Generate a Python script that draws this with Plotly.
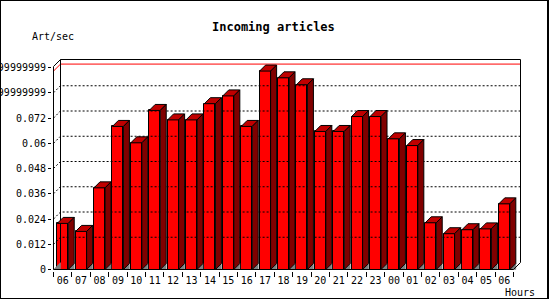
import plotly.graph_objects as go

# ---- data ----
hours = ["06", "07", "08", "09", "10", "11", "12", "13", "14", "15", "16", "17",
         "18", "19", "20", "21", "22", "23", "00", "01", "02", "03", "04", "05", "06"]
rate = [0.0219, 0.0181, 0.0388, 0.0680, 0.0602, 0.0756, 0.0711, 0.0711, 0.0788,
        0.0825, 0.0680, 0.0943, 0.0911, 0.0878, 0.0656, 0.0656, 0.0727, 0.0727,
        0.0621, 0.0589, 0.0222, 0.0170, 0.0189, 0.0193, 0.0312]
ytick_vals = [0, 0.012, 0.024, 0.036, 0.048, 0.06, 0.072, 0.084, 0.096]
ytick_text = ["0", "0.012", "0.024", "0.036", "0.048", "0.06", "0.072",
              "0.08399999999999999", "0.09599999999999999"]
title_text = "Incoming articles"
y_title = "Art/sec"
x_title = "Hours"

# ---- geometry (pixels -> data units) ----
W, H = 550, 300
L, R, T, B = 52, 28, 59, 29
PW, PH = W - L - R, H - T - B
XPX = 18.4            # px per category
YPX = 2104.0          # px per unit of rate
X0PX = 53.5           # pixel of x = -0.5
Y0PX = 269.5          # pixel of y = 0
xr = [-0.5 - (X0PX - L) / XPX, -0.5 + (L + PW - X0PX) / XPX]
yr = [-(T + PH - Y0PX) / YPX, (Y0PX - T) / YPX]
dxp, dyp = 7 / XPX, 7 / YPX      # wall depth
dxb, dyb = 6 / XPX, 6 / YPX      # bar depth
bw = 0.6
n = len(hours)
ytop = (Y0PX - 59.5) / YPX
wall_top = ytop - dyp
xl, xrgt = -0.5, n - 0.5

def px(xp):
    return (xp - L) / PW

def py(yp):
    return (T + PH - yp) / PH

fig = go.Figure()

def poly(xs, ys, fill, line_color="black", lw=1, dash=None):
    fig.add_trace(go.Scatter(
        x=xs, y=ys, mode="lines",
        fill="toself" if fill else None, fillcolor=fill,
        line=dict(color=line_color, width=lw, dash=dash),
        hoverinfo="skip", showlegend=False))

xs = list(range(n))

# floor shadows (small gray triangles at the left wall and behind each bar)
fx, fy = [xl, xl + dxp, xl + dxp, xl, None], [0, 0, dyp, 0, None]
for i in xs:
    b = i + bw / 2
    fx += [b, b + dxb, b + dxb, b, None]
    fy += [0, 0, dyb, 0, None]
poly(fx, fy, "#808080", "#808080", 0.5)

# gridlines (dotted), front axis -> back wall
gx, gy = [], []
for v in ytick_vals[1:-1]:
    gx += [xl, xl + dxp, xrgt + dxp, None]
    gy += [v, v + dyp, v + dyp, None]
poly(gx, gy, None, "black", 1, "2px,2px")

# max line (red)
mx = max(rate)
poly([xl, xl + dxp, xrgt + dxp], [mx, mx + dyp, mx + dyp], None, "#ff0000", 1)

# frame: back wall + left wall + front bottom
poly([xl + dxp, xl + dxp, xrgt + dxp, xrgt + dxp], [dyp, ytop, ytop, dyp], None)
poly([xl, xl, xl + dxp], [0, wall_top, ytop], None)
poly([xl, xrgt, xrgt + dxp], [0, 0, dyp], None)

# bars: front
fig.add_trace(go.Bar(x=xs, y=rate, width=bw,
                     marker=dict(color="#ff0000", line=dict(color="black", width=1)),
                     hoverinfo="skip", showlegend=False))
# top faces and side faces
tx, ty, sx, sy = [], [], [], []
for i, v in zip(xs, rate):
    a, b = i - bw / 2, i + bw / 2
    tx += [a, b, b + dxb, a + dxb, a, None]
    ty += [v, v, v + dyb, v + dyb, v, None]
    sx += [b, b, b + dxb, b + dxb, b, None]
    sy += [0, v, v + dyb, dyb, 0, None]
poly(tx, ty, "#c00000")
poly(sx, sy, "#800000")

font = "DejaVu Sans Mono"
fig.update_layout(
    width=W, height=H, template="none",
    margin=dict(l=L, r=R, t=T, b=B, pad=0),
    paper_bgcolor="white", plot_bgcolor="white",
    showlegend=False, hovermode=False, bargap=0,
    font=dict(family=font, color="#000000"),
    xaxis=dict(range=xr, tickmode="array", tickvals=xs, ticktext=hours,
               ticks="", showgrid=False, zeroline=False, showline=False,
               automargin=False, fixedrange=True,
               tickfont=dict(family=font, size=10, color="black"),
               ticklabelstandoff=2,
               minor=dict(tickmode="array", tickvals=[i - 0.5 for i in range(n + 1)],
                          ticks="outside", ticklen=5, tickcolor="black",
                          tickwidth=1, showgrid=False)),
    yaxis=dict(range=yr, tickmode="array", tickvals=ytick_vals, ticktext=ytick_text,
               ticks="outside", ticklen=3, tickcolor="black", tickwidth=1,
               showgrid=False, zeroline=False, showline=False,
               automargin=False, fixedrange=True,
               tickfont=dict(family=font, size=10, color="black")),
    annotations=[
        dict(text="<b>" + title_text + "</b>", x=px(273.5), y=py(27), xref="paper",
             yref="paper", showarrow=False, xanchor="center", yanchor="middle",
             font=dict(family=font, size=12, color="#000000")),
        dict(text=y_title, x=px(30), y=py(37), xref="paper", yref="paper",
             showarrow=False, xanchor="left", yanchor="middle",
             font=dict(family=font, size=10, color="#000000")),
        dict(text=x_title, x=px(503), y=py(292), xref="paper", yref="paper",
             showarrow=False, xanchor="left", yanchor="middle",
             font=dict(family=font, size=10, color="#000000")),
    ],
    shapes=[
        dict(type="line", xref="paper", yref="paper", x0=px(0.5), x1=px(0.5),
             y0=py(0), y1=py(299), line=dict(color="black", width=1)),
        dict(type="line", xref="paper", yref="paper", x0=px(0), x1=px(549),
             y0=py(0.5), y1=py(0.5), line=dict(color="black", width=1)),
        dict(type="line", xref="paper", yref="paper", x0=px(548), x1=px(548),
             y0=py(0), y1=py(299), line=dict(color="black", width=2)),
        dict(type="line", xref="paper", yref="paper", x0=px(0), x1=px(549),
             y0=py(298.5), y1=py(298.5), line=dict(color="black", width=1)),
    ],
)

fig.write_html("out.html")
